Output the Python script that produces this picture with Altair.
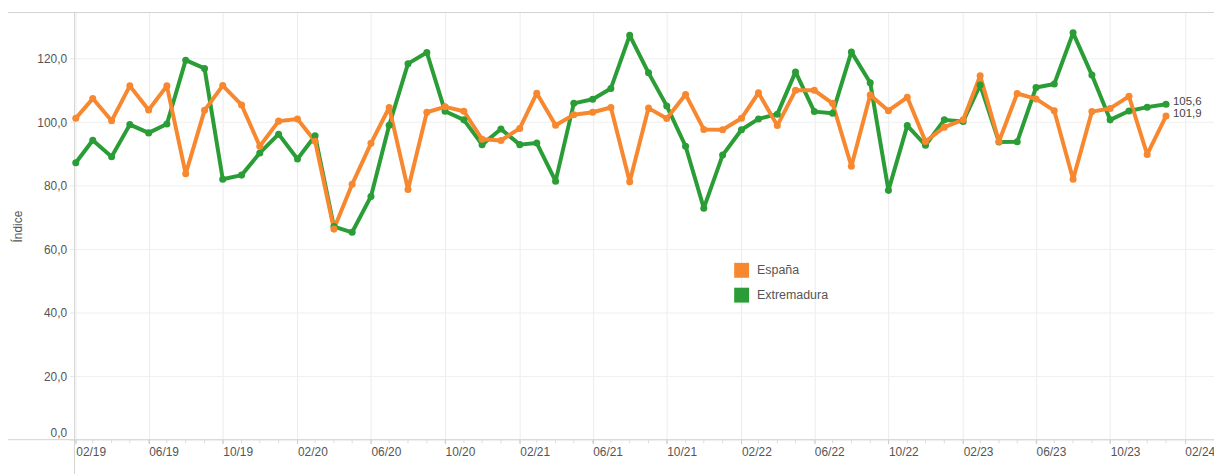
import altair as alt
import pandas as pd

# ---------------- data ----------------
months = [
    "2019-02", "2019-03", "2019-04", "2019-05", "2019-06", "2019-07", "2019-08", "2019-09", "2019-10", "2019-11", "2019-12",
    "2020-01", "2020-02", "2020-03", "2020-04", "2020-05", "2020-06", "2020-07", "2020-08", "2020-09", "2020-10", "2020-11", "2020-12",
    "2021-01", "2021-02", "2021-03", "2021-04", "2021-05", "2021-06", "2021-07", "2021-08", "2021-09", "2021-10", "2021-11", "2021-12",
    "2022-01", "2022-02", "2022-03", "2022-04", "2022-05", "2022-06", "2022-07", "2022-08", "2022-09", "2022-10", "2022-11", "2022-12",
    "2023-01", "2023-02", "2023-03", "2023-04", "2023-05", "2023-06", "2023-07", "2023-08", "2023-09", "2023-10", "2023-11", "2023-12",
    "2024-01",
]

espana = [
    101.2, 107.4, 100.4, 111.4, 103.8, 111.4, 83.7, 103.7, 111.5, 105.4,
    92.4, 100.3, 101.0, 94.0, 66.3, 80.4, 93.3, 104.6, 78.8, 103.1,
    104.8, 103.4, 94.6, 94.2, 98.0, 109.1, 99.0, 102.3, 103.1, 104.6,
    81.2, 104.4, 101.1, 108.7, 97.7, 97.6, 101.2, 109.2, 98.9, 110.0,
    110.0, 105.9, 86.1, 108.5, 103.6, 107.8, 93.9, 98.4, 100.7, 114.6,
    93.9, 109.0, 107.3, 103.6, 82.0, 103.3, 104.3, 108.1, 89.8, 101.9,
]

extremadura = [
    87.2, 94.3, 89.1, 99.2, 96.6, 99.4, 119.5, 116.9, 82.0, 83.3,
    90.3, 96.2, 88.4, 95.7, 67.1, 65.3, 76.6, 99.0, 118.4, 121.9,
    103.4, 100.7, 92.9, 97.8, 92.9, 93.4, 81.4, 105.9, 107.2, 110.6,
    127.3, 115.5, 105.1, 92.4, 72.9, 89.6, 97.6, 101.0, 102.5, 115.8,
    103.3, 102.8, 122.1, 112.4, 78.5, 98.9, 92.7, 100.7, 100.2, 111.7,
    93.7, 93.8, 110.9, 112.0, 128.1, 114.8, 100.7, 103.5, 104.7, 105.6,
]

series_names = ["España", "Extremadura"]
series_colors = ["#F7882F", "#2A9D36"]

x_tick_dates = [
    "2019-02", "2019-06", "2019-10", "2020-02", "2020-06", "2020-10",
    "2021-02", "2021-06", "2021-10", "2022-02", "2022-06", "2022-10",
    "2023-02", "2023-06", "2023-10", "2024-02",
]
y_ticks = [0, 20, 40, 60, 80, 100, 120]
y_title = "Índice"

# ---------------- table ----------------
rows = []
# Extremadura first so that España is drawn on top
for name, vals in [("Extremadura", extremadura), ("España", espana)]:
    for m, v in zip(months, vals):
        rows.append({"date": m + "-01", "serie": name, "valor": v})
df = pd.DataFrame(rows)
last_df = df[df["date"] == months[-1] + "-01"]
month_df = pd.DataFrame({"date": [m + "-01" for m in months]})


def dt(s):
    parts = s.split("-")
    d = int(parts[2]) if len(parts) == 3 else 1
    return alt.DateTime(year=int(parts[0]), month=int(parts[1]), date=d, utc=True)


W, H = 1147, 430
FONT = "Liberation Sans"

x_scale = alt.Scale(type="utc", domain=[dt("2019-01-30"), dt("2024-03-20")])
y_scale = alt.Scale(domain=[0, 134.5], nice=False, zero=True)
color_scale = alt.Scale(domain=series_names, range=series_colors)

x_axis = alt.Axis(
    values=[dt(d) for d in x_tick_dates],
    labelExpr="utcFormat(datum.value, '%m/%y')",
    labelAlign="left",
    labelFlush=False,
    labelFontSize=12,
    labelColor="#555555",
    labelPadding=3,
    tickSize=4,
    tickColor="#cccccc",
    domain=False,
    grid=True,
    gridColor="#ececec",
    title=None,
)
y_axis = alt.Axis(
    values=y_ticks,
    labelExpr="replace(format(datum.value, '.1f'), '.', ',')",
    labelFlush=True,
    labelFontSize=12,
    labelColor="#555555",
    labelPadding=3,
    tickSize=5,
    tickColor="#e6e6e6",
    domain=False,
    grid=True,
    gridColor="#efefef",
    title=y_title,
    titleFontSize=12,
    titleFontWeight="normal",
    titleColor="#555555",
    titlePadding=12,
)

frame_data = alt.Data(values=[{"k": 1}])
frame_top = alt.Chart(frame_data).mark_rule(color="#d4d4d4", strokeWidth=1).encode(
    x=alt.value(-67), x2=alt.value(W), y=alt.value(0)
)
frame_bottom = alt.Chart(frame_data).mark_rule(color="#d4d4d4", strokeWidth=1).encode(
    x=alt.value(-67), x2=alt.value(W), y=alt.value(H)
)
frame_left = alt.Chart(frame_data).mark_rule(color="#d4d4d4", strokeWidth=1).encode(
    x=alt.value(0), y=alt.value(0), y2=alt.value(H + 40)
)

minor_ticks = alt.Chart(month_df).mark_tick(color="#cccccc", thickness=1, size=3).encode(
    x=alt.X("date:T", scale=x_scale, axis=x_axis),
    y=alt.value(H + 2),
)

lines = alt.Chart(df).mark_line(strokeWidth=4, strokeJoin="round").encode(
    x=alt.X("date:T", scale=x_scale, axis=x_axis),
    y=alt.Y("valor:Q", scale=y_scale, axis=y_axis),
    color=alt.Color("serie:N", scale=color_scale, legend=None),
    detail="serie:N",
)

legend_holder = alt.Chart(df).mark_square(size=42, opacity=0).encode(
    x=alt.X("date:T", scale=x_scale),
    y=alt.Y("valor:Q", scale=y_scale),
    color=alt.Color(
        "serie:N",
        scale=color_scale,
        legend=alt.Legend(
            title=None,
            orient="none",
            legendX=664,
            legendY=252,
            symbolType="square",
            symbolSize=225,
            symbolStrokeWidth=0,
            symbolOpacity=1,
            labelFontSize=12.5,
            labelColor="#555555",
            labelFont=FONT,
            labelOffset=8,
            rowPadding=10,
            padding=0,
        ),
    ),
)

dots = alt.Chart(df).mark_circle(size=50, opacity=1).encode(
    x=alt.X("date:T", scale=x_scale),
    y=alt.Y("valor:Q", scale=y_scale),
    color=alt.Color("serie:N", scale=color_scale, legend=None),
)

end_labels = alt.Chart(last_df).mark_text(
    align="left", baseline="middle", dx=7, dy=-2, fontSize=11.5, color="#444444", font=FONT
).encode(
    x=alt.X("date:T", scale=x_scale),
    y=alt.Y("valor:Q", scale=y_scale),
    text=alt.Text("label:N"),
).transform_calculate(
    label="replace(format(datum.valor, '.1f'), '.', ',')"
)

chart = (
    alt.layer(frame_top, frame_bottom, frame_left, lines, minor_ticks, legend_holder, dots, end_labels)
    .resolve_legend(color="independent")
    .properties(
        width=W,
        height=H,
        autosize=alt.AutoSizeParams(type="none"),
        padding={"left": 67, "top": 3, "right": 0, "bottom": 33},
    )
    .configure(font=FONT)
    .configure_view(stroke=None)
    .configure_axis(labelFont=FONT, titleFont=FONT)
)

chart.save("out.html", embed_options={"renderer": "svg", "actions": False})
